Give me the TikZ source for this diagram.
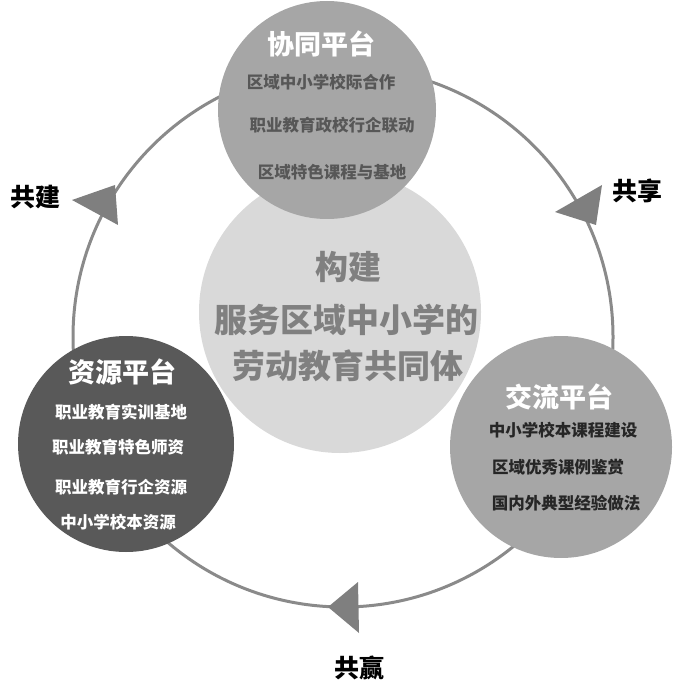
\documentclass[tikz,border=0pt]{standalone}
\usepackage{fontspec}
\setmainfont{Noto Sans CJK SC}
\definecolor{ringc}{HTML}{8A8A8A}
\definecolor{tric}{HTML}{7F7F7F}
\definecolor{midc}{HTML}{A6A6A6}
\definecolor{centc}{HTML}{D9D9D9}
\definecolor{darkc}{HTML}{595959}
\definecolor{ctext}{HTML}{808080}
\definecolor{itemg}{HTML}{575757}
\definecolor{itemk}{HTML}{262626}
\tikzset{
  disc/.style={circle, inner sep=0pt, minimum size=#1},
  itemtxt/.style={font=\fontsize{16.5}{18}\selectfont\bfseries, inner sep=0pt},
  titletxt/.style={font=\fontsize{27}{30}\selectfont\bfseries, text=white, inner sep=0pt},
  centtxt/.style={font=\fontsize{33}{36}\selectfont\bfseries, text=ctext, inner sep=0pt},
  sidetxt/.style={font=\fontsize{25}{28}\selectfont\bfseries, text=black, inner sep=0pt},
  marker/.style={fill=tric}
}
\begin{document}
\begin{tikzpicture}[x=1pt,y=-1pt]
\useasboundingbox (0,0) rectangle (675,684);
% ring
\node[disc=540pt, draw=ringc, line width=3pt] (ring) at (343,337) {};
% triangles
\fill[marker] (72,200) -- (115,185) -- (118,225) -- cycle;
\fill[marker] (555,212) -- (602,185) -- (596,225) -- cycle;
\fill[marker] (328,607) -- (358,582) -- (359,633) -- cycle;
% side labels
\node[sidetxt] (lbuild) at (35,197) {共建};
\node[sidetxt] (lshare) at (637,191) {共享};
\node[sidetxt] (lwin) at (359,668) {共赢};
% circles
\node[disc=282pt, fill=centc] (cent) at (340,312) {};
\node[disc=218pt, fill=midc] (top) at (327,110) {};
\node[disc=216pt, fill=darkc] (left) at (126,444) {};
\node[disc=222pt, fill=midc] (right) at (561,447) {};
% center text
\node[centtxt] (c1) at (348,267) {构建};
\node[centtxt] (c2) at (346,320) {服务区域中小学的};
\node[centtxt] (c3) at (348,366) {劳动教育共同体};
% top circle text
\node[titletxt] (t0) at (321,44) {协同平台};
\node[itemtxt, text=itemg] (t1) at (321,82) {区域中小学校际合作};
\node[itemtxt, text=itemg] (t2) at (332,125) {职业教育政校行企联动};
\node[itemtxt, text=itemg] (t3) at (332,172) {区域特色课程与基地};
% left circle text
\node[titletxt] (l0) at (122,372) {资源平台};
\node[itemtxt, text=white] (l1) at (121,412) {职业教育实训基地};
\node[itemtxt, text=white] (l2) at (118,447) {职业教育特色师资};
\node[itemtxt, text=white] (l3) at (121,487) {职业教育行企资源};
\node[itemtxt, text=white] (l4) at (118,522) {中小学校本资源};
% right circle text
\node[titletxt] (r0) at (559,397) {交流平台};
\node[itemtxt, text=itemk] (r1) at (563,430) {中小学校本课程建设};
\node[itemtxt, text=itemk] (r2) at (558,467) {区域优秀课例鉴赏};
\node[itemtxt, text=itemk] (r3) at (566,503) {国内外典型经验做法};
\end{tikzpicture}
\end{document}
